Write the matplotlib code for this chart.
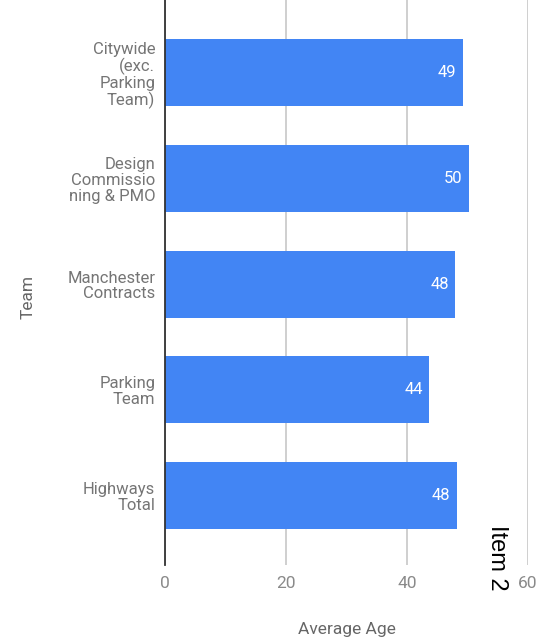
import matplotlib
matplotlib.use("Agg")
import matplotlib.pyplot as plt

categories = ["Citywide\n(exc.\nParking\nTeam)", "Design\nCommissio\nning & PMO",
              "Manchester\nContracts", "Parking\nTeam", "Highways\nTotal"]
values = [49.2, 50.3, 48.0, 43.7, 48.2]
labels = ["49", "50", "48", "44", "48"]
xticks = [0, 20, 40, 60]

plt.rcParams['font.family'] = ['Roboto', 'DejaVu Sans']

fig = plt.figure(figsize=(5.43, 6.39), dpi=100)
ax = fig.add_axes([165/543, 1 - 565/639, (528-165)/543, 565/639])

y = list(range(len(categories)))
bars = ax.barh(y, values, height=0.635, color="#4285F4", zorder=3)
for i, (v, lab) in enumerate(zip(values, labels)):
    ax.text(v - 1.1, i, lab, ha="right", va="center", color="white", fontsize=12, zorder=4)

ax.set_xlim(0, 60)
ax.set_ylim(4.66, -0.69)
ax.set_xticks(xticks)
ax.set_xticklabels([str(t) for t in xticks])
ax.set_yticks(y)
ax.set_yticklabels(categories, fontsize=12, color="#757575", linespacing=1.07)
ax.tick_params(axis="x", colors="#8a8a8a", labelsize=12.5, length=0, pad=8)
ax.tick_params(axis="y", length=0, pad=7)
ax.grid(axis="x", color="#cccccc", linewidth=1.3, zorder=0)
for s in ["top", "right", "bottom"]:
    ax.spines[s].set_visible(False)
ax.spines["left"].set_color("#333333")
ax.spines["left"].set_linewidth(1.3)
ax.spines["left"].set_zorder(5)

ax.set_xlabel("Average Age", fontsize=12.5, color="#666666", labelpad=22)
fig.text(28/543, 1 - 297/639, "Team", rotation=90, ha="center", va="center",
         fontsize=12.5, color="#666666")
fig.text(497/543, 1 - 558/639, "Item 2", rotation=270, ha="center", va="center",
         fontsize=17, color="black", family=["Liberation Sans", "DejaVu Sans"])

fig.savefig("out.png", dpi=100)
